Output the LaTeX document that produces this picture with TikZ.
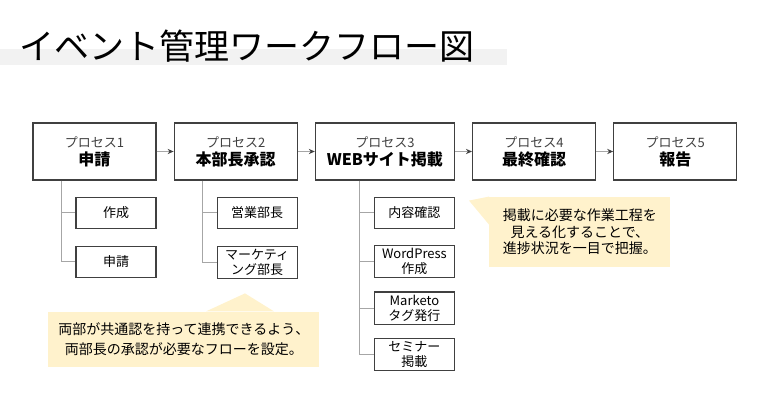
\documentclass[tikz,border=0pt]{standalone}
\usepackage{fontspec}
\setmainfont{Noto Sans CJK JP}
\usetikzlibrary{positioning,arrows.meta}
\definecolor{boxline}{HTML}{404040}
\definecolor{treeline}{HTML}{A6A6A6}
\definecolor{notefill}{HTML}{FFF2CC}
\definecolor{band}{HTML}{F2F2F2}
\newcommand\procname[2]{{\fontsize{6.5pt}{8pt}\selectfont\color{boxline}#1}\\[-3pt]{\fontsize{8pt}{8pt}\selectfont\bfseries #2}}

\begin{document}
\begin{tikzpicture}[node distance=8.5pt,
    proc/.style={rectangle,draw=boxline,line width=.6pt,minimum width=61.5pt,minimum height=28.5pt,align=center,inner sep=1pt},
    task/.style={rectangle,draw=boxline,line width=.6pt,minimum width=40pt,minimum height=15.5pt,align=center,inner sep=1.5pt,font=\fontsize{6.5pt}{7.5pt}\selectfont},
    note/.style={fill=notefill,align=center,inner sep=0pt,font=\fontsize{7pt}{8.3pt}\selectfont},
    arrow/.style={-{Stealth[length=3pt,width=2.6pt,color=boxline]},treeline,line width=.6pt},
    tree/.style={treeline,line width=.6pt}]
    \useasboundingbox (0,0) rectangle (380pt,-200pt);
    % title
    \fill[band] (0,-24.5pt) rectangle (253.5pt,-32.5pt);
    \node[anchor=base west,inner sep=0pt,font=\fontsize{17.5pt}{20pt}\selectfont] (title) at (9.5pt,-29.75pt) {イベント管理ワークフロー図};
    % processes
    \node[proc] (p1) at (47.25pt,-75.75pt) {\procname{プロセス1}{申請}};
    \node[proc,right=of p1] (p2) {\procname{プロセス2}{本部長承認}};
    \node[proc,right=of p2,minimum width=69.5pt] (p3) {\procname{プロセス3}{WEBサイト掲載}};
    \node[proc,right=of p3] (p4) {\procname{プロセス4}{最終確認}};
    \node[proc,right=of p4] (p5) {\procname{プロセス5}{報告}};
    \draw[arrow] (p1) -- (p2);
    \draw[arrow] (p2) -- (p3);
    \draw[arrow] (p3) -- (p4);
    \draw[arrow] (p4) -- (p5);
    % tasks
    \node[task,below=8pt of p1.south east,anchor=north east] (a1) {作成};
    \node[task,below=8.5pt of a1] (a2) {申請};
    \node[task,below=8pt of p2.south east,anchor=north east] (b1) {営業部長};
    \node[task,below=8.5pt of b1] (b2) {マーケティ\\ング部長};
    \node[task,below=8pt of p3.south east,anchor=north east] (c1) {内容確認};
    \node[task,below=8pt of c1] (c2) {WordPress\\作成};
    \node[task,below=6.5pt of c2] (c3) {Marketo\\タグ発行};
    \node[task,below=6.5pt of c3] (c4) {セミナー\\掲載};
    \coordinate (ta) at ([xshift=-7pt]a1.west);
    \coordinate (tb) at ([xshift=-7pt]b1.west);
    \coordinate (tc) at ([xshift=-7pt]c1.west);
    \draw[tree] (ta |- p1.south) |- (a1.west) (ta) |- (a2.west);
    \draw[tree] (tb |- p2.south) |- (b1.west) (tb) |- (b2.west);
    \draw[tree] (tc |- p3.south) |- (c4.west) (tc) -- (c1.west)
        (tc |- c2.west) -- (c2.west) (tc |- c3.west) -- (c3.west);
    % notes
    \node[note,minimum width=90.5pt,minimum height=35pt,right=17pt of c1.north east,anchor=north west] (n1) {掲載に必要な作業工程を\\見える化することで、\\進捗状況を一目で把握。};
    \fill[notefill] (n1.north west) -- ([xshift=-10pt,yshift=-2pt]n1.north west) -- ([yshift=-14pt]n1.north west) -- cycle;
    \node[note,minimum width=135.5pt,minimum height=27.5pt,below=16pt of b2.south east,anchor=north east,xshift=11pt,font=\fontsize{7pt}{10pt}\selectfont] (n2) {両部が共通認を持って連携できるよう、\\両部長の承認が必要なフローを設定。};
    \fill[notefill] ([xshift=79pt]n2.north west) -- ([xshift=98.5pt,yshift=9pt]n2.north west) -- ([xshift=113pt]n2.north west) -- cycle;
\end{tikzpicture}
\end{document}
